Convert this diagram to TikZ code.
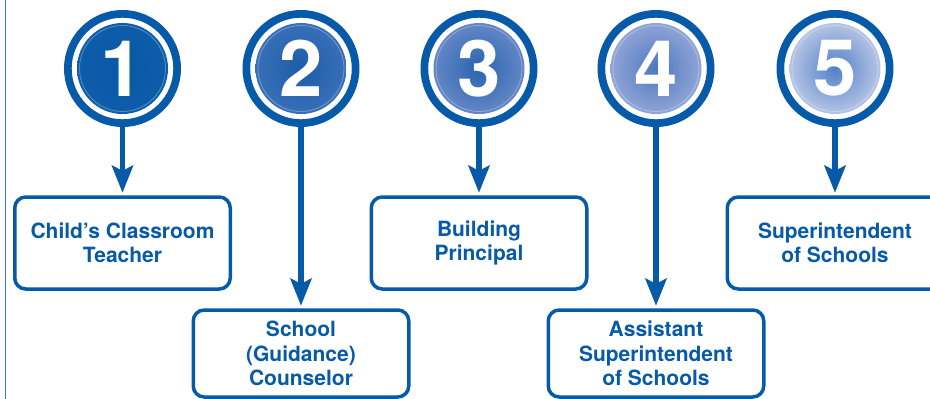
\documentclass[tikz,border=0pt]{standalone}
\usepackage{fontspec}
\setmainfont{TeX Gyre Heros}
\usetikzlibrary{arrows.meta}
\definecolor{mainblue}{RGB}{6,90,168}
\definecolor{edgeblue}{RGB}{60,120,190}
\definecolor{fillAin}{RGB}{8,88,166}
\definecolor{fillAout}{RGB}{14,94,172}
\definecolor{fillBin}{RGB}{28,92,168}
\definecolor{fillBout}{RGB}{62,116,186}
\definecolor{fillCin}{RGB}{40,100,176}
\definecolor{fillCout}{RGB}{112,142,202}
\definecolor{fillDin}{RGB}{78,120,190}
\definecolor{fillDout}{RGB}{158,174,220}
\definecolor{fillEin}{RGB}{82,128,198}
\definecolor{fillEout}{RGB}{202,211,236}
\begin{document}
\begin{tikzpicture}[x=1pt,y=-1pt,
  ring/.style 2 args={circle, draw=mainblue, line width=7.7pt, minimum size=109.3pt,
    inner sep=0pt, text=white, font=\fontsize{78}{78}\selectfont\bfseries,
    path picture={
      \shade[inner color=#1, outer color=#2] (path picture bounding box.center) circle (45.5pt);
      \draw[white, opacity=0.3, line width=0.8pt] (path picture bounding box.center) circle (43pt);
    }},
  stepbox/.style={draw=mainblue, line width=3.5pt, rounded corners=11pt,
    minimum width=215.5pt, minimum height=92pt, align=center, text=mainblue,
    font=\fontsize{21}{24.5}\selectfont\bfseries, inner sep=0pt},
  lowbox/.style={stepbox, minimum height=87pt},
  link/.style={draw=mainblue, line width=5.5pt,
    -{Stealth[length=27pt,width=21pt,inset=5pt]}, shorten >=2.5pt}
]
\useasboundingbox (0,0) rectangle (930,399);
\clip (0,0) rectangle (930,399);

\draw[edgeblue, line width=1.5pt] (5.5,-2) -- (5.5,401);

\node[ring={fillAin}{fillAout}] (c1) at (122.5,68.5) {1};
\node[ring={fillBin}{fillBout}] (c2) at (301,68.5) {2};
\node[ring={fillCin}{fillCout}] (c3) at (479,68.5) {3};
\node[ring={fillDin}{fillDout}] (c4) at (656,68.5) {4};
\node[ring={fillEin}{fillEout}] (c5) at (835,68.5) {5};

\node[stepbox] (b1) at (122.5,243) {Child’s Classroom\\Teacher};
\node[lowbox]  (b2) at (301,353.5) {School\\(Guidance)\\Counselor};
\node[stepbox] (b3) at (479,243) {Building\\Principal};
\node[lowbox]  (b4) at (656,353.5) {Assistant\\Superintendent\\of Schools};
\node[stepbox] (b5) at (835,243) {Superintendent\\of Schools};

\draw[link] (c1.south) -- (b1.north);
\draw[link] (c2.south) -- (b2.north);
\draw[link] (c3.south) -- (b3.north);
\draw[link] (c4.south) -- (b4.north);
\draw[link] (c5.south) -- (b5.north);
\end{tikzpicture}
\end{document}
